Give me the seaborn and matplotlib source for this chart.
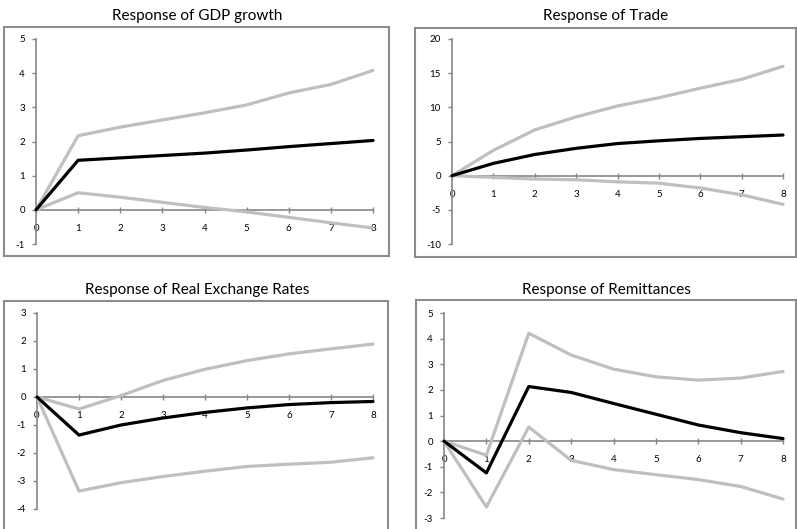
import numpy as np
import pandas as pd
import matplotlib
matplotlib.use("Agg")
import matplotlib.pyplot as plt
import seaborn as sns
from matplotlib.patches import Rectangle

sns.set_theme(style="white")
plt.rcParams['font.family'] = ['Lato', 'DejaVu Sans']

horizon = [0, 1, 2, 3, 4, 5, 6, 7, 8]

titles = ["Response of GDP growth", "Response of Trade",
          "Response of Real Exchange Rates", "Response of Remittances"]

gdp_mean = [0, 1.45, 1.52, 1.59, 1.66, 1.75, 1.85, 1.94, 2.03]
gdp_upper = [0, 2.17, 2.42, 2.63, 2.84, 3.07, 3.42, 3.67, 4.08]
gdp_lower = [0, 0.50, 0.37, 0.22, 0.07, -0.06, -0.22, -0.38, -0.53]

trade_mean = [0, 1.8, 3.1, 4.0, 4.7, 5.1, 5.45, 5.7, 5.95]
trade_upper = [0, 3.7, 6.7, 8.6, 10.2, 11.4, 12.8, 14.1, 16.0]
trade_lower = [0, -0.25, -0.5, -0.6, -0.9, -1.1, -1.8, -2.8, -4.2]

rer_mean = [0, -1.36, -1.0, -0.75, -0.55, -0.39, -0.27, -0.2, -0.16]
rer_upper = [0, -0.43, 0.05, 0.59, 0.99, 1.30, 1.54, 1.72, 1.89]
rer_lower = [0, -3.36, -3.06, -2.84, -2.65, -2.48, -2.40, -2.33, -2.17]

rem_mean = [0, -1.24, 2.13, 1.90, 1.47, 1.05, 0.63, 0.33, 0.10]
rem_upper = [0, -0.55, 4.21, 3.36, 2.81, 2.51, 2.38, 2.46, 2.72]
rem_lower = [0, -2.57, 0.55, -0.75, -1.11, -1.31, -1.50, -1.77, -2.26]

y_limits = [(-1, 5), (-10, 20), (-4, 3), (-3, 5)]
y_steps = [1, 5, 1, 1]

series = [
    (gdp_mean, gdp_upper, gdp_lower),
    (trade_mean, trade_upper, trade_lower),
    (rer_mean, rer_upper, rer_lower),
    (rem_mean, rem_upper, rem_lower),
]

W, H = 797, 529
fig = plt.figure(figsize=(W / 100, H / 100), dpi=100)

# pixel layouts: (axes left, right, top, bottom), (frame left, right, top, bottom), title y
axes_px = [(36, 373, 39, 244), (452, 783, 39, 244),
           (37, 373, 313, 509), (444, 783, 313, 518)]
frame_px = [(4, 389, 27, 256), (415, 796, 28, 257),
            (4, 388, 301, 531), (416, 796, 300, 531)]
title_px = [(197, 16), (606, 16), (197, 290), (606, 290)]

frame_color = "#8c8c8c"
axis_color = "#868686"
band_color = "#bfbfbf"

for i in range(4):
    fl, fr, ft, fb = frame_px[i]
    fig.patches.append(Rectangle((fl / W, 1 - fb / H), (fr - fl) / W, (fb - ft) / H,
                                 transform=fig.transFigure, fill=False,
                                 edgecolor=frame_color, linewidth=1.5, zorder=0))
    tx, ty = title_px[i]
    fig.text(tx / W, 1 - ty / H, titles[i], ha="center", va="center",
             fontsize=11, color="black")

    l, r, t, b = axes_px[i]
    ax = fig.add_axes([l / W, 1 - b / H, (r - l) / W, (b - t) / H])
    ax.set_facecolor("none")
    m, u, lo = series[i]
    df = pd.DataFrame({"h": horizon * 3,
                       "v": list(u) + list(lo) + list(m),
                       "s": ["upper"] * 9 + ["lower"] * 9 + ["mean"] * 9})
    sns.lineplot(data=df, x="h", y="v", hue="s", ax=ax,
                 palette={"upper": band_color, "lower": band_color, "mean": "black"},
                 linewidth=2.3, legend=False, clip_on=False, zorder=3)
    ax.set_xlim(0, 8)
    ax.set_ylim(*y_limits[i])
    ax.set_xlabel("")
    ax.set_ylabel("")
    ax.set_xticks(horizon)
    ax.set_yticks(np.arange(y_limits[i][0], y_limits[i][1] + 0.001, y_steps[i]))
    ax.yaxis.set_major_formatter(matplotlib.ticker.FormatStrFormatter("%d"))
    for s in ["top", "right"]:
        ax.spines[s].set_visible(False)
    ax.spines["left"].set_position(("data", 0))
    ax.spines["bottom"].set_position(("data", 0))
    for s in ["left", "bottom"]:
        ax.spines[s].set_color(axis_color)
        ax.spines[s].set_linewidth(1.2)
        ax.spines[s].set_zorder(2)
    ax.tick_params(axis="y", direction="out", length=3, width=1, color=axis_color,
                   labelsize=7, pad=5, labelcolor="black", left=True)
    ax.tick_params(axis="x", direction="inout", length=4, width=1, color=axis_color,
                   labelsize=7, pad=8, labelcolor="black", bottom=True)
    ax.grid(False)

fig.savefig("out.png", dpi=100)
